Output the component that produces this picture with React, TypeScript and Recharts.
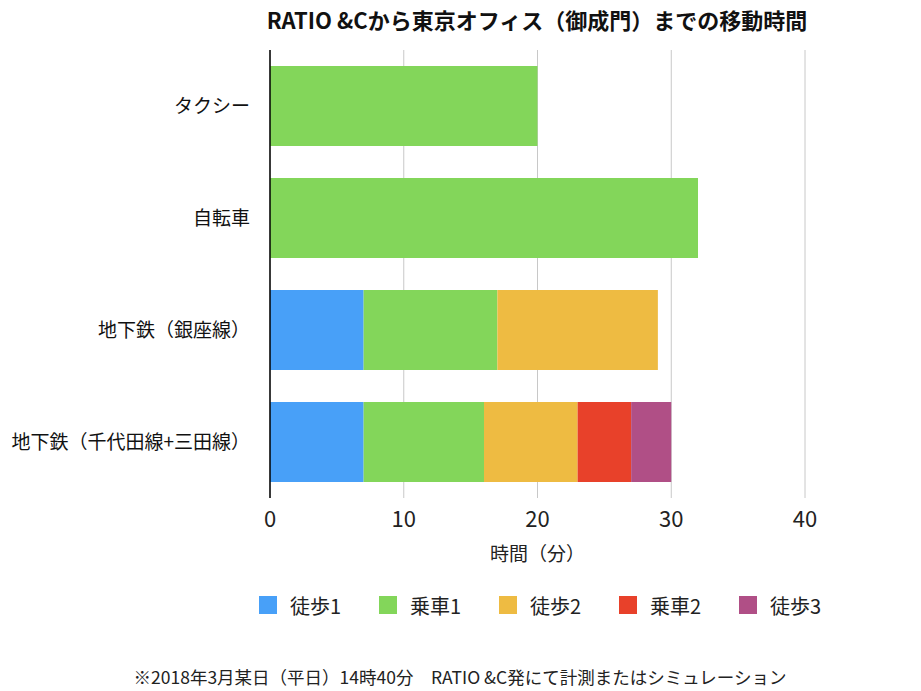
import { Bar, BarChart, CartesianGrid, Label, Legend, XAxis, YAxis } from "recharts";

const categories = ["タクシー", "自転車", "地下鉄（銀座線）", "地下鉄（千代田線+三田線）"];
const walk1 = [0, 0, 7, 7];
const ride1 = [20, 32, 10, 9];
const walk2 = [0, 0, 12, 7];
const ride2 = [0, 0, 0, 4];
const walk3 = [0, 0, 0, 3];
const xTicks = [0, 10, 20, 30, 40];

const seriesKeys = ["walk1", "ride1", "walk2", "ride2", "walk3"];
const seriesNames = ["徒歩1", "乗車1", "徒歩2", "乗車2", "徒歩3"];
const seriesColors = ["#48A0F8", "#83D65A", "#EEBB42", "#E8412A", "#B04F86"];

const data = categories.map((route, i) => ({
  route,
  walk1: walk1[i],
  ride1: ride1[i],
  walk2: walk2[i],
  ride2: ride2[i],
  walk3: walk3[i],
}));

const FONT = '"Noto Sans CJK JP", "Noto Sans", sans-serif';

function LegendRow() {
  return (
    <div
      style={{
        display: "flex",
        alignItems: "center",
        height: 40,
        width: 921,
        paddingLeft: 259,
        boxSizing: "border-box",
        whiteSpace: "nowrap",
        fontFamily: FONT,
        fontSize: 20,
        color: "#222",
      }}
    >
      {seriesNames.map((name, i) => (
        <div key={name} style={{ display: "flex", alignItems: "center", width: 120 }}>
          <span
            style={{
              display: "inline-block",
              width: 18,
              height: 18,
              background: seriesColors[i],
              marginRight: 13,
            }}
          />
          <span>{name}</span>
        </div>
      ))}
    </div>
  );
}

export default function App() {
  return (
    <div style={{ position: "absolute", left: 0, top: 0, width: 921, height: 691, background: "#fff" }}>
      <div
        style={{
          position: "absolute",
          top: 3,
          left: 237,
          width: 600,
          textAlign: "center",
          fontFamily: FONT,
          fontWeight: 700,
          fontSize: 22,
          color: "#111",
        }}
      >
        RATIO &amp;Cから東京オフィス（御成門）までの移動時間
      </div>
      <BarChart
        width={921}
        height={691}
        data={data}
        layout="vertical"
        barSize={80}
        margin={{ top: 50, right: 116, bottom: 66, left: 0 }}
      >
        <CartesianGrid horizontal={false} stroke="#c8c8c8" />
        <XAxis
          type="number"
          domain={[0, 40]}
          ticks={xTicks}
          axisLine={false}
          tickLine={false}
          tickMargin={7}
          height={87}
          tick={{ fontSize: 22, fill: "#222", fontFamily: FONT }}
        >
          <Label
            value="時間（分）"
            position="insideBottom"
            offset={24}
            style={{ fontSize: 19, fill: "#222", fontFamily: FONT }}
          />
        </XAxis>
        <YAxis
          type="category"
          dataKey="route"
          width={270}
          axisLine={{ stroke: "#000", strokeWidth: 1.5 }}
          tickLine={false}
          tickMargin={14}
          tick={{ fontSize: 19, fill: "#111", fontFamily: FONT }}
        />
        <Legend
          verticalAlign="bottom"
          height={40}
          wrapperStyle={{ left: 0, width: 921 }}
          content={() => <LegendRow />}
        />
        {seriesKeys.map((key, i) => (
          <Bar
            key={key}
            dataKey={key}
            name={seriesNames[i]}
            stackId="time"
            fill={seriesColors[i]}
            isAnimationActive={false}
          />
        ))}
      </BarChart>
      <div
        style={{
          position: "absolute",
          top: 664,
          left: 0,
          width: 920,
          textAlign: "center",
          fontFamily: FONT,
          fontSize: 17.5,
          color: "#222",
        }}
      >
        ※2018年3月某日（平日）14時40分　RATIO &amp;C発にて計測またはシミュレーション
      </div>
    </div>
  );
}
